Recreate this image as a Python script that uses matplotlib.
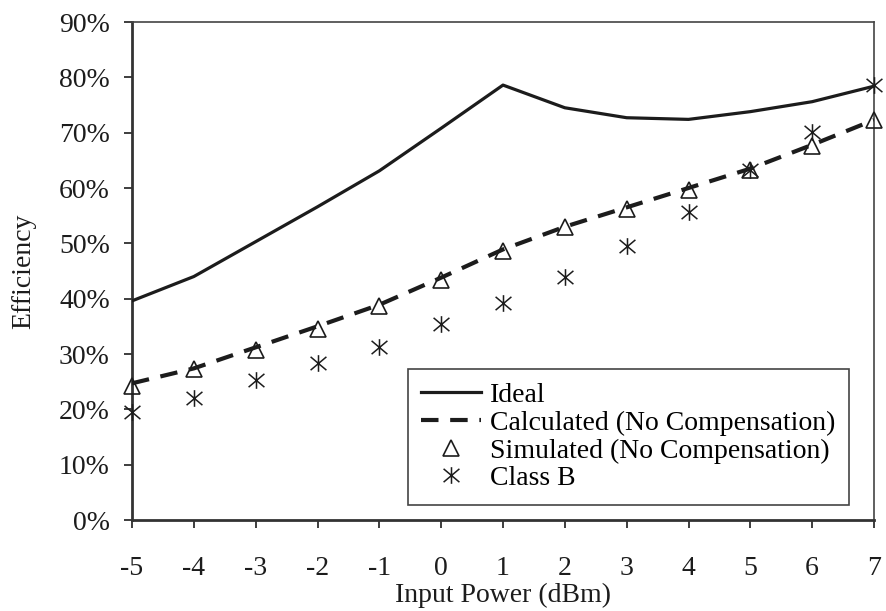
import matplotlib
matplotlib.use("Agg")
import matplotlib.pyplot as plt
from matplotlib.path import Path
from matplotlib.ticker import PercentFormatter

# input power sweep (dBm)
power_dbm = [-5, -4, -3, -2, -1, 0, 1, 2, 3, 4, 5, 6, 7]

# drain efficiency, percent
ideal = [39.6, 44.0, 50.3, 56.6, 63.1, 70.8, 78.6, 74.5, 72.7, 72.4, 73.8, 75.6, 78.4]
calculated = [24.7, 27.4, 31.2, 35.0, 38.9, 43.8, 48.9, 53.0, 56.5, 60.0, 63.5, 67.8, 72.3]
simulated = [24.2, 27.3, 30.7, 34.5, 38.7, 43.3, 48.7, 53.0, 56.2, 59.6, 63.3, 67.6, 72.2]
class_b = [19.6, 22.0, 25.3, 28.4, 31.3, 35.4, 39.3, 44.0, 49.5, 55.6, 63.3, 70.2, 78.6]

ink = "#1c1c1c"

# asterisk marker: an X crossed by a vertical stroke
star_marker = Path(
    [(0, -1), (0, 1), (-0.95, -0.8), (0.95, 0.8), (-0.95, 0.8), (0.95, -0.8)],
    [Path.MOVETO, Path.LINETO, Path.MOVETO, Path.LINETO, Path.MOVETO, Path.LINETO],
)

plt.rcParams["font.family"] = ["Liberation Serif", "DejaVu Serif"]
plt.rcParams["font.size"] = 20
plt.rcParams["axes.unicode_minus"] = False

fig = plt.figure(figsize=(8.86, 6.11), dpi=100)
ax = fig.add_axes([132 / 886, 91 / 611, 742 / 886, 498 / 611])

ax.plot(power_dbm, ideal, color=ink, lw=2.3, label="Ideal", zorder=3)
ax.plot(power_dbm, calculated, color=ink, lw=3.0, dashes=(4.2, 2.8),
        label="Calculated (No Compensation)", zorder=3)
ax.plot(power_dbm, simulated, ls="none", marker="^", ms=11, mfc="none",
        mec=ink, mew=1.2, label="Simulated (No Compensation)", zorder=4,
        clip_on=False)
ax.plot(power_dbm, class_b, ls="none", marker=star_marker, ms=12,
        mec=ink, mew=1.1, label="Class B", zorder=4, clip_on=False)

ax.set_xlim(-5, 7)
ax.set_ylim(0, 90)
ax.set_xticks(power_dbm)
ax.set_yticks(range(0, 91, 10))
ax.yaxis.set_major_formatter(PercentFormatter(decimals=0))

ax.tick_params(axis="both", direction="out", colors=ink, width=1.2,
               length=6, labelcolor=ink)
ax.tick_params(axis="y", pad=10)
ax.tick_params(axis="x", pad=20)

for side in ["left", "bottom"]:
    ax.spines[side].set_linewidth(2.0)
    ax.spines[side].set_color("#333333")
for side in ["top", "right"]:
    ax.spines[side].set_linewidth(1.2)
    ax.spines[side].set_color("#444444")

ax.set_xlabel("Input Power (dBm)", color=ink, labelpad=1)
ax.set_ylabel("Efficiency", color=ink, labelpad=16)

leg = ax.legend(loc="lower right", bbox_to_anchor=(0.966, 0.03),
                frameon=True, fancybox=False, framealpha=1,
                edgecolor="#444444", handlelength=2.15, handletextpad=0.3,
                labelspacing=0.08, borderpad=0.5, borderaxespad=0)
leg.get_frame().set_linewidth(1.2)

fig.savefig("out.png", dpi=100)
